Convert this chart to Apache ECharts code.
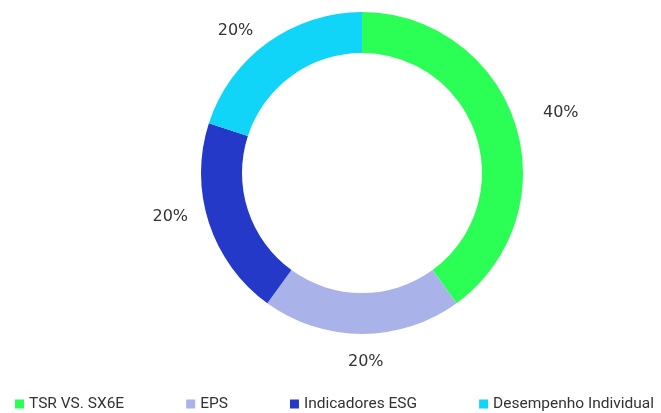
<!DOCTYPE html>
<html>
<head>
<meta charset="utf-8">
<script src="https://cdn.jsdelivr.net/npm/echarts@6/dist/echarts.min.js"></script>
<style>
html,body{margin:0;padding:0;background:#fff;}
#chart{width:661px;height:413px;}
</style>
</head>
<body>
<div id="chart"></div>
<script>
const categories = ['TSR VS. SX6E', 'EPS', 'Indicadores ESG', 'Desempenho Individual'];
const values = [40, 20, 20, 20];
const labels = ['40%', '20%', '20%', '20%'];
const colors = ['#2BFF55', '#A9B3EA', '#2539C8', '#10D4F8'];
// small per-label nudges (pixels) to mimic the reference label placement
const labelNudgeX = [0, -19, 7, 5];
const labelNudgeY = [-3, 4, -13, 8];

const chart = echarts.init(document.getElementById('chart'), null, {renderer: 'canvas'});
chart.setOption({
  animation: false,
  color: colors,
  legend: {
    data: categories,
    left: 15,
    top: 396,
    width: 720,
    padding: 0,
    itemWidth: 9,
    itemHeight: 9,
    itemGap: 62,
    icon: 'rect',
    textStyle: {fontFamily: 'Roboto', fontSize: 15.5, color: '#333'}
  },
  series: [{
    type: 'pie',
    center: [362, 173],
    radius: [120, 161],
    startAngle: 90,
    clockwise: true,
    label: {
      show: true,
      position: 'outside',
      formatter: p => labels[p.dataIndex],
      fontFamily: 'DejaVu Sans',
      fontSize: 16,
      color: '#333',
      distanceToLabelLine: 5
    },
    labelLine: {show: false, length: 24, length2: 0},
    labelLayout: p => ({dx: labelNudgeX[p.dataIndex], dy: labelNudgeY[p.dataIndex]}),
    emphasis: {disabled: true},
    data: categories.map((c, i) => ({name: c, value: values[i]}))
  }]
});
</script>
</body>
</html>
